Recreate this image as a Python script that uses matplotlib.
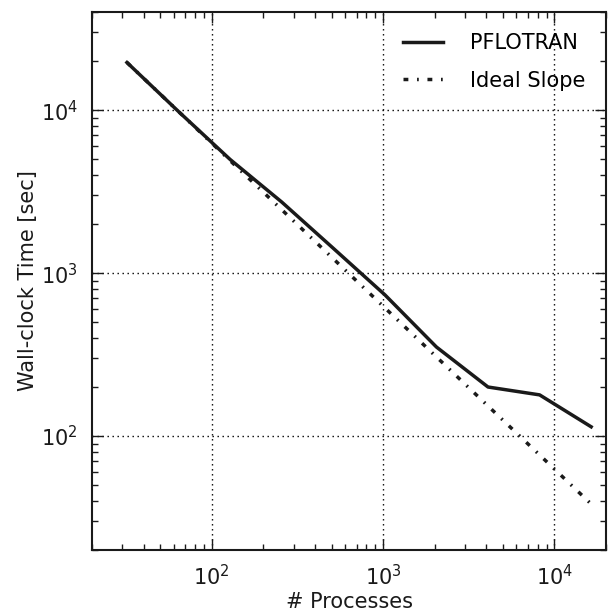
import matplotlib
matplotlib.use("Agg")
import numpy as np
from matplotlib import pyplot as plt

# scaling data
processes = [32, 64, 128, 256, 512, 1024, 2048, 4096, 8192, 16384]
pflotran_time = [19600, 9800, 4980, 2730, 1420, 736, 352, 200, 179, 114]
ideal_time = [19600, 9800, 4900, 2450, 1225, 612, 306, 153, 76.6, 38.3]

plt.rcParams["font.family"] = "DejaVu Sans"
fig = plt.figure(figsize=(6.08, 6.11), dpi=100)
ax = fig.add_axes([92 / 608, 1 - 550 / 611, (606 - 92) / 608, (550 - 12) / 611])

ax.loglog(processes, pflotran_time, color="#1a1a1a", lw=2.5, label="PFLOTRAN")
ax.loglog(processes, ideal_time, color="#1a1a1a", lw=2.5,
          dashes=(1.4, 2.5, 0.5, 2.5), label="Ideal Slope")

ax.set_xlim(20, 20000)
ax.set_ylim(20, 40000)
ax.grid(True, which="major", color="black", linestyle=(0, (1, 2.6)), lw=1)
ax.tick_params(which="both", direction="in", top=True, right=True, labelsize=15,
               colors="#1a1a1a", pad=10)
ax.tick_params(which="major", length=8, width=1)
ax.tick_params(which="minor", length=4, width=1)
for s in ax.spines.values():
    s.set_linewidth(1.5)
    s.set_color("#1a1a1a")

ax.set_xlabel("# Processes", fontsize=15, color="#1a1a1a", labelpad=2)
ax.set_ylabel("Wall-clock Time [sec]", fontsize=15, color="#1a1a1a", labelpad=2)
ax.legend(loc="upper right", frameon=False, fontsize=15, handlelength=1.9, handletextpad=1.3,
          labelspacing=0.85, borderaxespad=0.6)

fig.savefig("out.png", dpi=100)
